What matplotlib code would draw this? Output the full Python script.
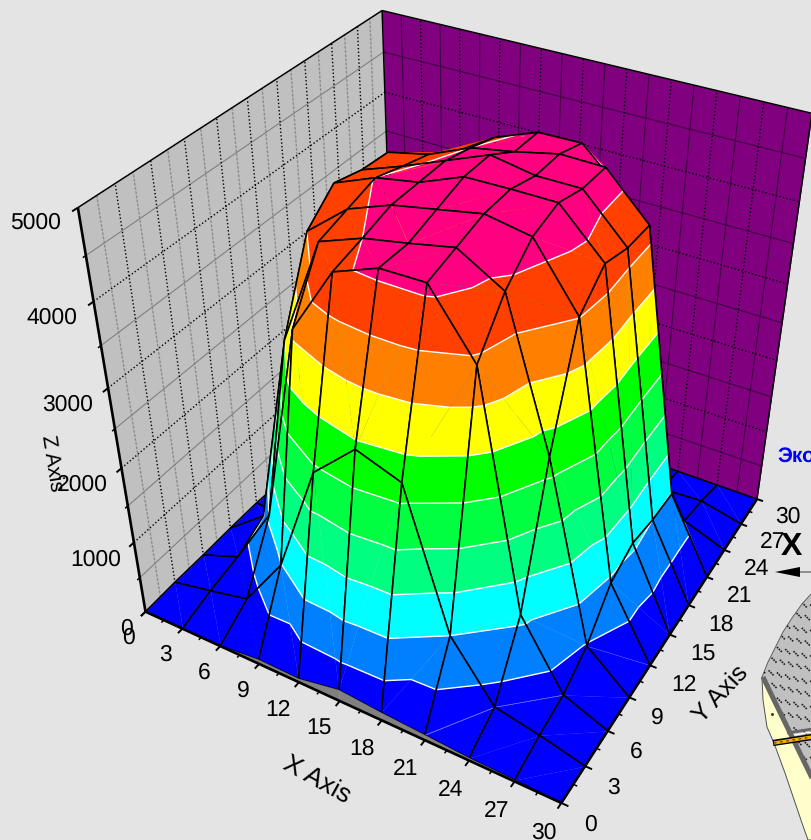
import numpy as np
import matplotlib
matplotlib.use('Agg')
import matplotlib.pyplot as plt
from matplotlib.patches import Polygon
from matplotlib.lines import Line2D
from matplotlib.collections import LineCollection
from matplotlib.transforms import Affine2D
from mpl_toolkits.mplot3d.art3d import Poly3DCollection, Line3DCollection

plt.rcParams['font.family'] = ['Liberation Sans', 'DejaVu Sans']
plt.rcParams['text.hinting'] = 'no_hinting'

# ---------- data ----------
x_values = [0, 3, 6, 9, 12, 15, 18, 21, 24, 27, 30]
y_values = [0, 3, 6, 9, 12, 15, 18, 21, 24, 27, 30]
z_ticks = [0, 1000, 2000, 3000, 4000, 5000]
# one list per x value, entries follow y_values
z_x00 = [0, 15, 15, 25, 25, 0, 0, 0, 0, 0, 0]
z_x03 = [0, 130, 220, 430, 0, 0, 0, 0, 0, 0, 0]
z_x06 = [0, 255, 1055, 3000, 4010, 4310, 4220, 4190, 0, 0, 0]
z_x09 = [60, 980, 3610, 4310, 4410, 4510, 4400, 4300, 4090, 0, 0]
z_x12 = [50, 2420, 4410, 4500, 4600, 4600, 4600, 4510, 4400, 0, 0]
z_x15 = [160, 2910, 4610, 4600, 4700, 4800, 4800, 4600, 4590, 0, 0]
z_x18 = [110, 2720, 4620, 4710, 4800, 4810, 4710, 4710, 4600, 0, 0]
z_x21 = [75, 1000, 3920, 4410, 4710, 4810, 4710, 4700, 4150, 0, 0]
z_x24 = [35, 270, 1100, 2720, 4010, 4310, 4210, 4200, 300, 100, 0]
z_x27 = [20, 150, 240, 475, 925, 1070, 1000, 985, 210, 130, 0]
z_x30 = [0, 0, 0, 0, 0, 0, 0, 0, 0, 0, 0]
band_levels = [0, 500, 1000, 1500, 2000, 2500, 3000, 3500, 4000, 4500, 5000]
band_colors = ['#0000FF', '#0080FF', '#00FFFF', '#00FF80', '#00FF40', '#00FF00',
               '#FFFF00', '#FF8000', '#FF4000', '#FF0080']
BG = '#E4E4E4'
W, H = 812, 840

Z = np.array([z_x00, z_x03, z_x06, z_x09, z_x12, z_x15, z_x18, z_x21, z_x24, z_x27, z_x30], float)
xs = np.array(x_values, float)
ys = np.array(y_values, float)

# ---------- camera fitted to the box corners ----------
calib = [((0, 0, 0), (146, 612)), ((30, 0, 0), (562, 802)), ((30, 30, 0), (757, 501)),
         ((0, 0, 5000), (80, 207)), ((0, 30, 5000), (382, 10)), ((30, 30, 5000), (812, 113)),
         ((0, 0, 4000), (91, 303)), ((0, 15, 5000), (248, 98)), ((15, 30, 5000), (583, 59)),
         ((30, 15, 0), (670, 632)), ((15, 0, 0), (338, 704)), ((0, 6, 0), (203, 555)),
         ((0, 3, 0), (176, 582))]
rows = []
for (cx, cy, cz), (u, v) in calib:
    q = [cx / 30, cy / 30, cz / 5000, 1]
    v = H - v
    rows.append(q + [0, 0, 0, 0] + [-u * c for c in q])
    rows.append([0, 0, 0, 0] + q + [-v * c for c in q])
P = np.linalg.svd(np.array(rows, float))[2][-1].reshape(3, 4)
if P[2, 3] < 0:
    P = -P
P = P @ np.diag([1 / 30, 1 / 30, 1 / 5000, 1.0])
M = np.array([P[0], P[1], [0, 0, 0, -1.0], P[2]])


def project(px, py, pz):
    w = P @ np.array([px, py, pz, 1.0])
    return w[0] / w[2], w[1] / w[2]


fig = plt.figure(figsize=(W / 100, H / 100), dpi=100, facecolor=BG)
ax = fig.add_axes([0, 0, 1, 1], projection='3d', facecolor=BG)
ax.set_axis_off()
ax.computed_zorder = False
ax.get_proj = lambda: M
ax.apply_aspect = lambda position=None: None
ax.viewLim.intervalx = (0, W)
ax.viewLim.intervaly = (0, H)

order = [1]


def next_z():
    order[0] += 1
    return order[0]


def polys(verts, colors):
    c = Poly3DCollection(verts, facecolors=colors, edgecolors=colors, linewidths=0.15)
    c.set_zorder(next_z())
    ax.add_collection3d(c, autolim=False)


def lines(segs, color, lw, ls='-'):
    if len(segs) == 0:
        return
    c = Line3DCollection(segs, colors=color, linewidths=lw, linestyles=ls)
    c.set_zorder(next_z())
    ax.add_collection3d(c, autolim=False)


# ---------- walls ----------
x0, x1 = xs[0], xs[-1]
y0, y1 = ys[0], ys[-1]
z1 = float(z_ticks[-1])
polys([[(x0, y0, 0), (x0, y1, 0), (x0, y1, z1), (x0, y0, z1)]], ['#C0C0C0'])
polys([[(x0, y1, 0), (x1, y1, 0), (x1, y1, z1), (x0, y1, z1)]], ['#800080'])
major = xs[1:-1]
minor = xs[:-1] + 1.5
zmaj = np.array(z_ticks[1:-1], float)
zmin = np.array(z_ticks[:-1], float) + 500
dot = (0, (1, 1.6))
lines([[(x0, v, 0), (x0, v, z1)] for v in minor], '#8c8c8c', 1.0, (0, (2, 1)))
lines([[(x0, y0, v), (x0, y1, v)] for v in zmin], '#808080', 0.8)
lines([[(x0, v, 0), (x0, v, z1)] for v in major] + [[(x0, y0, v), (x0, y1, v)] for v in zmaj], 'black', 1.0, dot)
lines([[(v, y1, 0), (v, y1, z1)] for v in minor] + [[(x0, y1, v), (x1, y1, v)] for v in zmin], '#400040', 0.8)
lines([[(v, y1, 0), (v, y1, z1)] for v in major] + [[(x0, y1, v), (x1, y1, v)] for v in zmaj], 'black', 1.0, dot)
lines([[(x0, y0, z1), (x0, y1, z1)], [(x0, y1, z1), (x1, y1, z1)], [(x0, y1, 0), (x0, y1, z1)],
       [(x1, y1, 0), (x1, y1, z1)]], 'black', 1.1)


# ---------- surface ----------
def clip(tri, lo, hi):
    def cut(pts, level, keep_above):
        out = []
        n = len(pts)
        for k in range(n):
            a, b = pts[k], pts[(k + 1) % n]
            ina = (a[2] >= level) if keep_above else (a[2] <= level)
            inb = (b[2] >= level) if keep_above else (b[2] <= level)
            if ina:
                out.append(a)
            if ina != inb:
                t = (level - a[2]) / (b[2] - a[2])
                out.append(tuple(a[m] + t * (b[m] - a[m]) for m in range(3)))
        return out
    pts = cut(list(tri), lo, True)
    if pts:
        pts = cut(pts, hi, False)
    return pts


def contour(tri):
    segs = []
    for lev in band_levels[1:-1]:
        pts = []
        for k in range(3):
            a, b = tri[k], tri[(k + 1) % 3]
            if (a[2] < lev) != (b[2] < lev):
                t = (lev - a[2]) / (b[2] - a[2])
                pts.append(tuple(a[m] + t * (b[m] - a[m]) for m in range(3)))
        if len(pts) == 2:
            segs.append(pts)
    return segs


def node(i, j):
    return (xs[i], ys[j], Z[i, j])


for i in range(len(xs) - 1):
    for j in range(len(ys) - 2, -1, -1):
        a, b, c, d = node(i, j), node(i + 1, j), node(i + 1, j + 1), node(i, j + 1)
        white = []
        # the split of each cell changes from quadrant to quadrant around the centre
        if (i >= 5) == (j < 5):
            pair = ([a, c, d], [a, b, c])
        else:
            pair = ([b, c, d], [a, b, d])
        for tri in pair:
            verts, cols = [], []
            for k, col in enumerate(band_colors):
                p = clip(tri, band_levels[k], band_levels[k + 1])
                if len(p) >= 3:
                    verts.append(p)
                    cols.append(col)
            polys(verts, cols)
            white += contour(tri)
        lines(white, 'white', 1.0)
        lines([[a, b], [b, c], [c, d], [d, a]], 'black', 1.15)

# front skirt where the surface leaves the floor
skirt = []
for i in range(len(xs) - 1):
    if Z[i, 0] > 0 or Z[i + 1, 0] > 0:
        skirt.append([(xs[i], y0, 0), (xs[i + 1], y0, 0), node(i + 1, 0), node(i, 0)])
polys(skirt, ['#808080'] * len(skirt))

# ---------- axes ----------
lines([[(x0, y0, 0), (x1, y0, 0)], [(x1, y0, 0), (x1, y1, 0)], [(x0, y0, 0), (x0, y0, z1)]], 'black', 1.9)
tk = [[(v, y0, 0), (v, y0 - 0.45, 0)] for v in xs]
tk += [[(x1, v, 0), (x1 + 0.45, v, 0)] for v in ys]
tk += [[(x0, y0, v), (x0, y0 - 0.45, v)] for v in z_ticks]
lines(tk, 'black', 1.4)
tk = [[(v, y0, 0), (v, y0 - 0.25, 0)] for v in minor]
tk += [[(x1, v, 0), (x1 + 0.25, v, 0)] for v in minor]
tk += [[(x0, y0, v), (x0, y0 - 0.25, v)] for v in zmin]
lines(tk, 'black', 1.1)

FS = 16.5
for v in x_values:
    px, py = project(v, 0, -270)
    ax.text2D(px - 14 + v / 3, py - 8 - 0.13 * v, str(v), fontsize=FS, ha='right', va='center',
              transform=ax.transData, zorder=5000)
for v in y_values:
    px, py = project(31.4, v, -130)
    ax.text2D(px + 1, py - 3, str(v), fontsize=FS, ha='left', va='center', transform=ax.transData, zorder=5000)
for v in z_ticks:
    px, py = project(0, -1.7, v)
    ax.text2D(px + 5, py - 1, str(v), fontsize=FS, ha='right', va='center', transform=ax.transData, zorder=5000)

# ---------- figure level items, positioned in pixels from the top left ----------
tp = Affine2D().scale(1 / W, -1 / H).translate(0, 1) + fig.transFigure


def ftext(px, py, s, **kw):
    fig.text(px / W, 1 - py / H, s, ha=kw.pop('ha', 'center'), va=kw.pop('va', 'center'),
             rotation_mode='anchor', **kw)


ftext(316, 781, 'X Axis', fontsize=19, rotation=-29)
ftext(721, 694, 'Y Axis', fontsize=18, rotation=47)
ftext(52, 463, 'Z Axis', fontsize=15, rotation=-81)
ftext(777, 456, 'Эко', fontsize=15, fontweight='bold', color='#0000FF', ha='left')

gray_poly = Polygon([(762, 677), (768, 662), (775, 648), (783, 632), (792, 618), (802, 604), (812, 593),
                     (812, 778)], closed=True, facecolor='#C0C0C0', edgecolor='#606060', linewidth=0.7,
                    transform=tp, zorder=2)
fig.add_artist(gray_poly)
cream = Polygon([(762, 677), (763, 700), (767, 727), (774, 743), (785, 773), (802, 823), (808, 840),
                 (812, 840), (812, 778)], closed=True, facecolor='#FFFFCC', edgecolor='#505050',
                linewidth=0.7, transform=tp, zorder=2)
fig.add_artist(cream)
dashes = []
for r in range(22):
    for c in range(10):
        px = 752 + 8.3 * c + (r % 2) * 3
        py = 590 + 12.7 * r + 0.25 * 8.3 * c
        dashes.append([(px, py), (px + 5, py + 5)])
hatch = LineCollection(dashes, colors='#202020', linewidths=1.2, linestyles=(0, (1, 0.6)), transform=tp, zorder=3)
hatch.set_clip_path(gray_poly)
fig.add_artist(hatch)
for pts, col, lw in [([(763, 677), (774, 700), (795, 743), (812, 778)], '#666666', 3.6),
                     ([(787, 733), (812, 729)], '#666666', 2.0),
                     ([(794, 735), (812, 732)], 'white', 1.0),
                     ([(773, 743), (812, 737)], 'black', 4.5),
                     ([(774, 743), (812, 737)], '#F0B000', 2.4)]:
    fig.add_artist(Line2D([p[0] for p in pts], [p[1] for p in pts], color=col, lw=lw, transform=tp,
                          zorder=4, solid_capstyle='butt'))
fig.add_artist(Line2D([774, 812], [743, 737], color='#604000', lw=0.9, ls=(0, (2, 3)), transform=tp, zorder=5))
fig.add_artist(Line2D([772], [714], color='#404040', marker='o', ms=1.2, transform=tp, zorder=5))

fig.add_artist(Line2D([800, 812], [572, 572], color='#808080', lw=1.2, transform=tp, zorder=6))
fig.add_artist(Polygon([(775, 572), (800, 567), (800, 577)], closed=True, facecolor='black',
                       edgecolor='none', transform=tp, zorder=6))
ftext(791, 547, 'X', fontsize=23, fontweight='bold', color='black', zorder=7)

fig.savefig('out.png', dpi=100, facecolor=BG)
